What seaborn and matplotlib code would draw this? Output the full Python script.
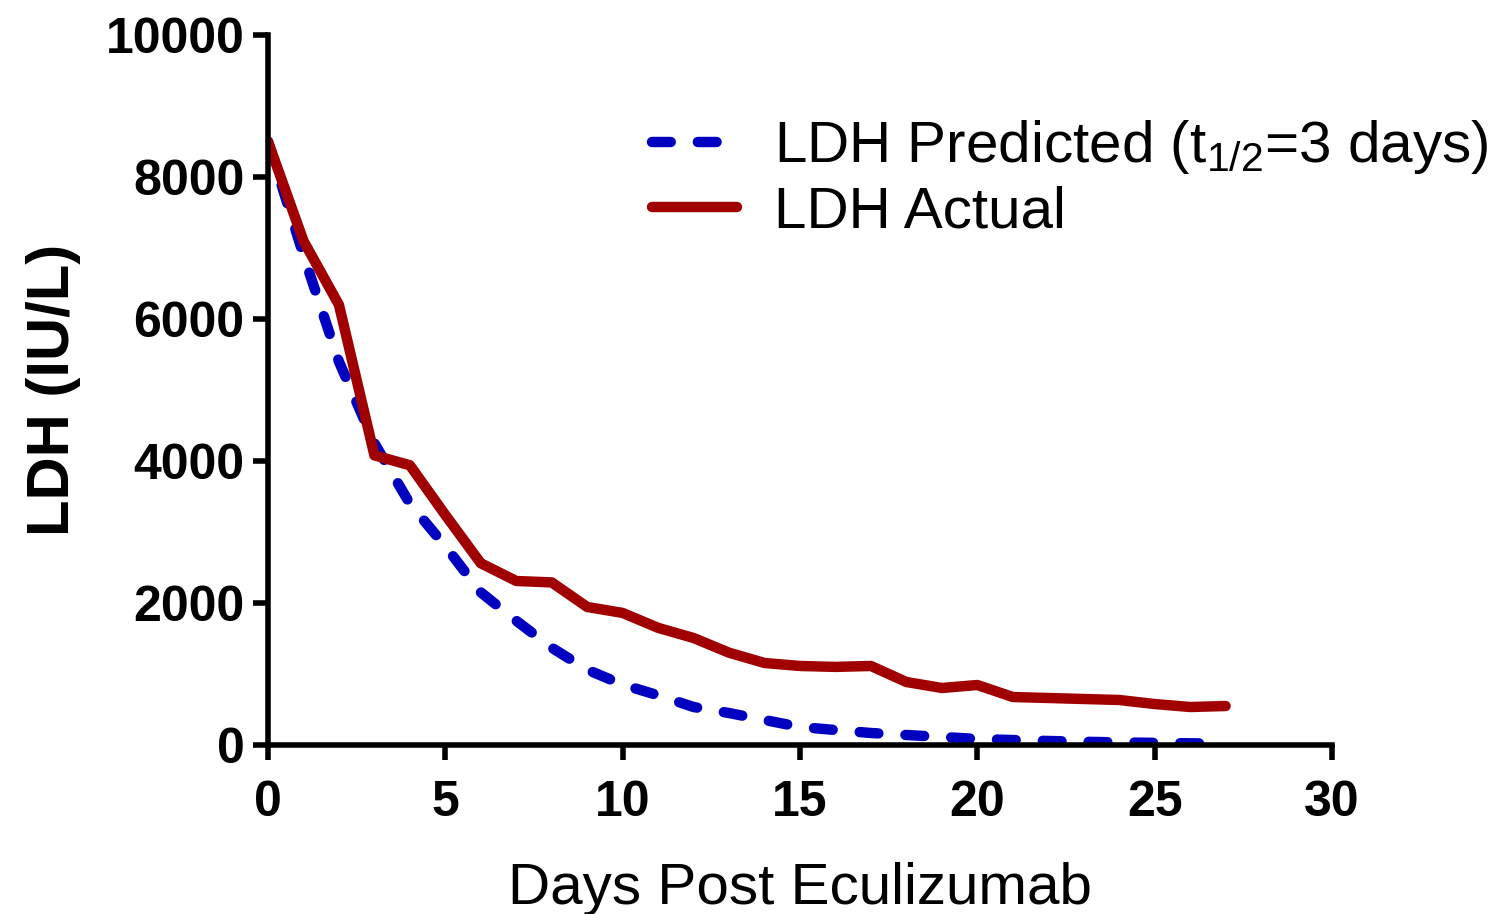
import matplotlib
matplotlib.use("Agg")
import matplotlib.pyplot as plt
import seaborn as sns
import pandas as pd

days = list(range(28))
ldh_actual = [8500, 7100, 6200, 4080, 3940, 3240, 2560, 2310, 2290, 1944,
              1860, 1650, 1507, 1300, 1155, 1113, 1100, 1113, 887, 803,
              845, 676, 662, 648, 634, 577, 535, 549]
ldh_predicted = [8500, 6900, 5400, 4250, 3400, 2800, 2150, 1750, 1370, 1060,
                 850, 700, 535, 450, 352, 254, 211, 169, 141, 113,
                 85, 70, 57, 46, 37, 30, 24, 19]

sns.set_theme(style="ticks")
plt.rcParams['font.family'] = ['Liberation Sans', 'DejaVu Sans']
plt.rcParams['mathtext.fontset'] = 'custom'
plt.rcParams['mathtext.rm'] = 'Liberation Sans'
plt.rcParams['mathtext.it'] = 'Liberation Sans'
plt.rcParams['text.color'] = 'black'
plt.rcParams['axes.labelcolor'] = 'black'
plt.rcParams['xtick.color'] = 'black'
plt.rcParams['ytick.color'] = 'black'

df = pd.DataFrame({"day": days, "actual": ldh_actual, "predicted": ldh_predicted})

fig, ax = plt.subplots(figsize=(15.07, 9.14), dpi=100)
fig.subplots_adjust(left=268/1507, right=1332/1507, top=1-35/914, bottom=1-745/914)

sns.lineplot(data=df, x="day", y="predicted", ax=ax, color="#0000C0", linewidth=7.5,
             linestyle=(0, (1.8, 2.6)), dash_capstyle="round",
             label=r"LDH Predicted (t$\mathregular{_{1/2}}$=3 days)")
sns.lineplot(data=df, x="day", y="actual", ax=ax, color="#A00000", linewidth=7.5,
             label="LDH Actual")

ax.set_xlim(0, 30)
ax.set_ylim(0, 10000)
ax.set_xticks(range(0, 31, 5))
ax.set_yticks(range(0, 10001, 2000))
sns.despine(ax=ax)
for s in ["left", "bottom"]:
    ax.spines[s].set_linewidth(4)
    ax.spines[s].set_color("black")
ax.tick_params(axis="both", width=4, length=11, labelsize=36, color="black")
ax.tick_params(axis="x", pad=14)
ax.tick_params(axis="y", pad=6)
for lbl in ax.get_xticklabels() + ax.get_yticklabels():
    lbl.set_fontweight("bold")

ax.set_xlabel("Days Post Eculizumab", fontsize=42, labelpad=26)
ax.set_ylabel("LDH (IU/L)", fontsize=43, fontweight="bold", labelpad=18)

leg = ax.legend(loc="upper left", bbox_to_anchor=(652/1507, 1-118/914),
                bbox_transform=fig.transFigure, frameon=False, borderpad=0,
                borderaxespad=0, fontsize=42, handlelength=1.45,
                handletextpad=0.65, labelspacing=0.17)

fig.savefig("out.png", dpi=100)
